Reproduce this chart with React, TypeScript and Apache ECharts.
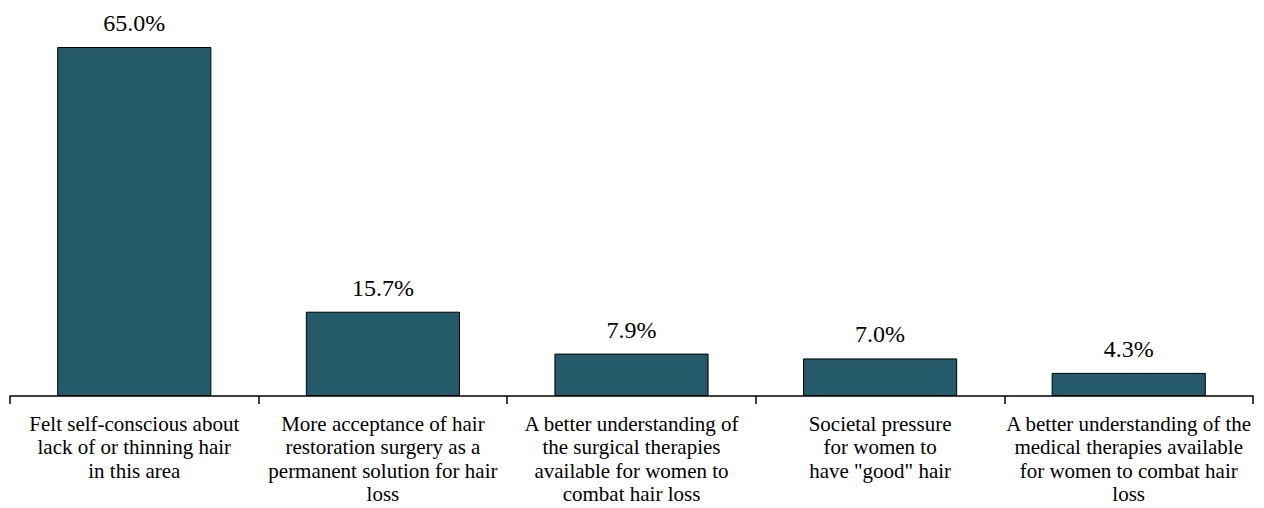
import React, { useEffect, useRef } from "react";
import * as echarts from "echarts";

const categories = [
  "Felt self-conscious about\nlack of or thinning hair\nin this area",
  "More acceptance of hair\nrestoration surgery as a\npermanent solution for hair\nloss",
  "A better understanding of\nthe surgical therapies\navailable for women to\ncombat hair loss",
  "Societal pressure\nfor women to\nhave \"good\" hair",
  "A better understanding of the\nmedical therapies available\nfor women to combat hair\nloss",
];
const values = [65.0, 15.7, 7.9, 7.0, 4.3];

const SERIF = "'Liberation Serif', 'Times New Roman', 'DejaVu Serif', serif";

export default function App() {
  const ref = useRef<HTMLDivElement>(null);
  useEffect(() => {
    document.body.style.margin = "0";
    const chart = echarts.init(ref.current!, null, { renderer: "svg" });
    chart.setOption({
      animation: false,
      textStyle: { fontFamily: SERIF },
      grid: { left: 10, right: 11, top: 47, bottom: 112, containLabel: false },
      xAxis: {
        type: "category",
        data: categories,
        axisLine: { show: true, lineStyle: { color: "#000", width: 1.5 } },
        axisTick: { show: true, length: 8, lineStyle: { color: "#000", width: 1.5 } },
        axisLabel: {
          interval: 0,
          color: "#000",
          fontFamily: SERIF,
          fontSize: 21,
          lineHeight: 23.5,
          margin: 16,
        },
      },
      yAxis: { type: "value", min: 0, max: 65, show: false },
      series: [
        {
          type: "bar",
          data: values,
          barCategoryGap: "38%",
          itemStyle: { color: "#245A69", borderColor: "#000", borderWidth: 1 },
          label: {
            show: true,
            position: "top",
            distance: 12,
            color: "#000",
            fontFamily: SERIF,
            fontSize: 24,
            formatter: (p: any) => p.value.toFixed(1) + "%",
          },
        },
      ],
    });
    return () => chart.dispose();
  }, []);
  return <div ref={ref} style={{ width: 1264, height: 508 }} />;
}
